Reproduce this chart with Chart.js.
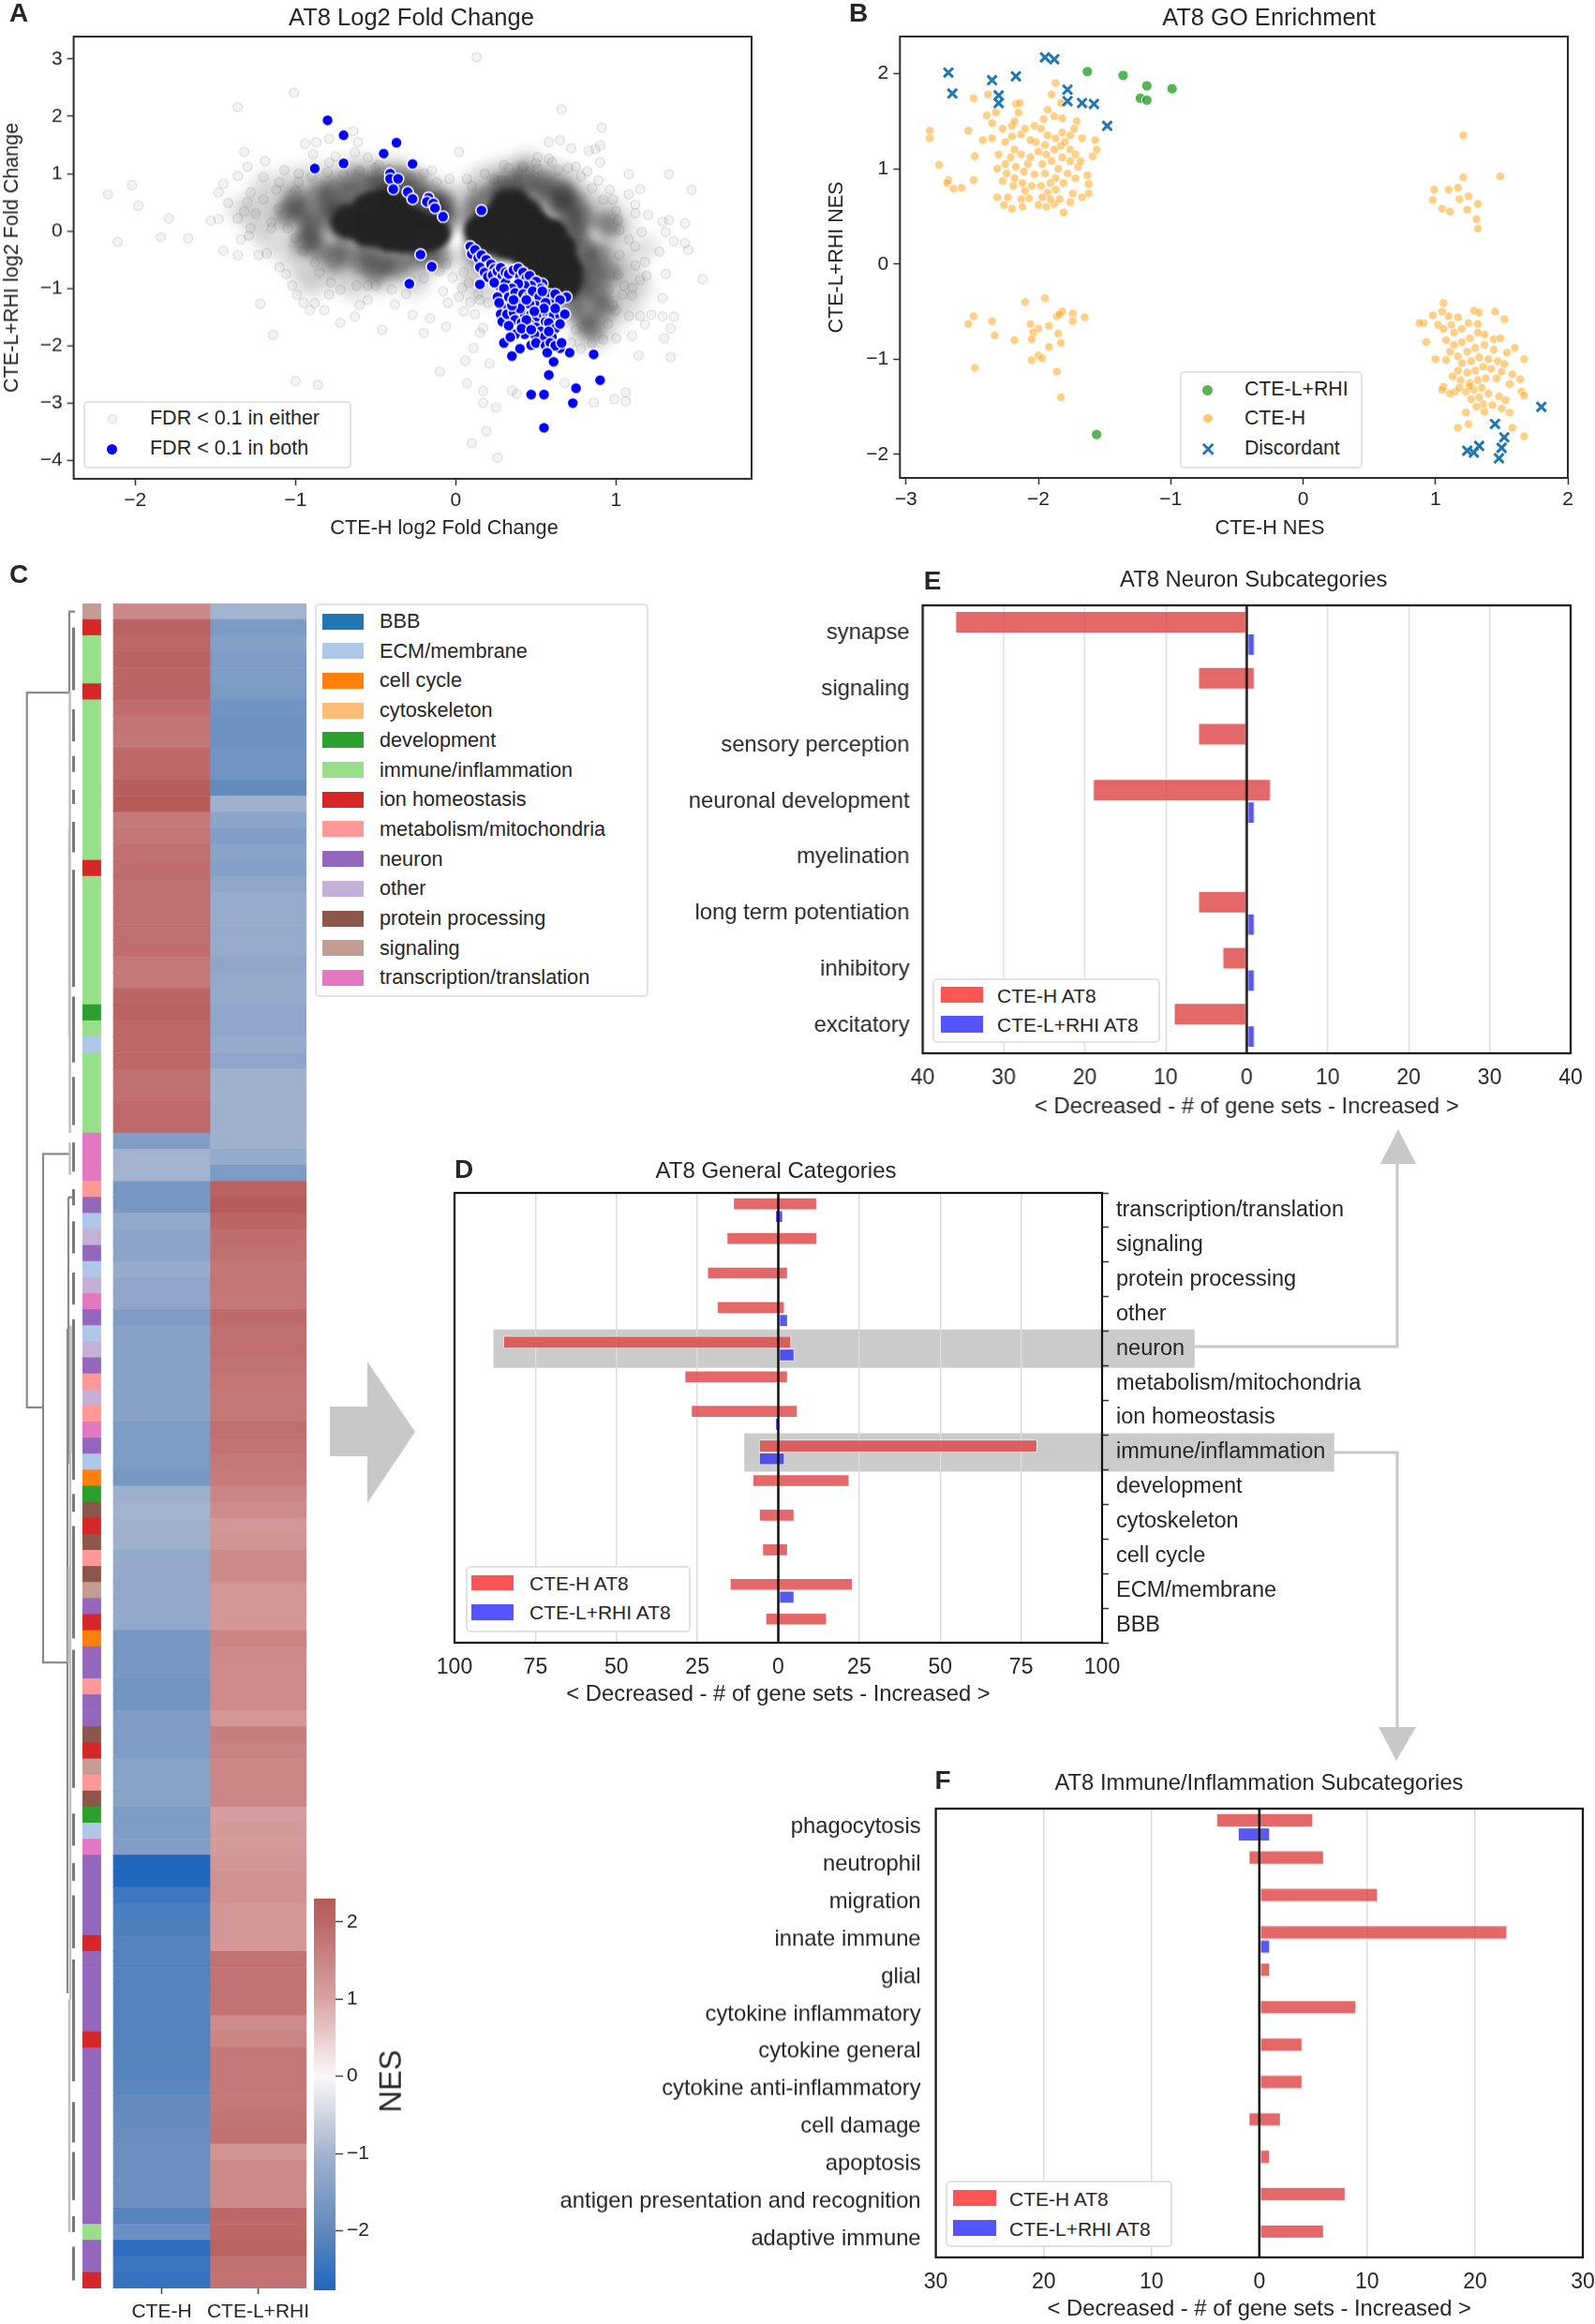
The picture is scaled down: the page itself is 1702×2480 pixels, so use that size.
<!DOCTYPE html>
<html>
<head>
<meta charset="utf-8">
<title>AT8 figure</title>
<script src="https://cdn.jsdelivr.net/npm/chart.js@4"></script>
<style>
  html, body { margin: 0; padding: 0; background: #fff; }
  #page { position: relative; width: 1702px; height: 2480px; overflow: hidden; filter: blur(0.6px);
          font-family: "Liberation Sans", Arial, sans-serif; color: #262626; }
  #page canvas { position: absolute; }
  .txt { position: absolute; white-space: nowrap; transform: translate(-50%, -50%); line-height: 1; }
  .legend { position: absolute; background: #fff; border: 2px solid #e2e2e2; border-radius: 5px; box-sizing: border-box; }
  .legend .key { position: absolute; }
  .legend .lab { position: absolute; white-space: nowrap; line-height: 1; transform: translateY(-50%); }
</style>
</head>
<body>
<div id="page">
  <svg id="notes" width="1702" height="2480" style="position:absolute;left:0;top:0">
    <polygon points="352,1501 392,1501 392,1453 443,1528 392,1604 392,1554 352,1554" fill="#c8c8c8"/>
    <polyline points="1270,1437 1491,1437 1491,1235" fill="none" stroke="#c8c8c8" stroke-width="3"/>
    <polygon points="1473,1242 1492,1205 1511,1242" fill="#c8c8c8"/>
    <polyline points="1420,1550 1491,1550 1491,1850" fill="none" stroke="#c8c8c8" stroke-width="3"/>
    <polygon points="1471,1843 1490,1879 1511,1843" fill="#c8c8c8"/>
  </svg>
</div>

<script>
// ---------- panel A, log2 fold change ----------
const eitherCore = [
  [-.5,.5],[-.43,.56],[-.36,.48],[-.58,.36],[-.5,.35],[-.42,.34],[-.34,.3],[-.27,.24],
  [-.63,.2],[-.56,.2],[-.48,.2],[-.4,.2],[-.32,.18],[-.24,.14],[-.17,.1],
  [-.65,.07],[-.58,.05],[-.5,.05],[-.42,.05],[-.34,.04],[-.26,.02],[-.18,0],[-.11,-.02],
  [-.57,-.07],[-.5,-.08],[-.42,-.1],[-.34,-.1],[-.26,-.1],[-.18,-.1],[-.12,-.09],
  [-.42,-.16],[-.34,-.18],[-.26,-.18],[-.18,-.17],[-.7,.12],[-.68,.25],[-.55,.45],
  [.27,.36],[.34,.4],[.4,.36],[.3,.52],[.38,.54],[.46,.36],[.19,.2],[.26,.22],[.34,.22],[.42,.22],[.5,.18],
  [.13,.06],[.2,.08],[.28,.08],[.36,.08],[.44,.08],[.52,.06],[.57,.02],[.62,-.02],
  [.13,-.05],[.2,-.06],[.28,-.06],[.36,-.06],[.44,-.06],[.52,-.06],[.6,-.08],
  [.19,-.19],[.26,-.2],[.34,-.2],[.42,-.2],[.5,-.2],[.58,-.2],[.63,-.22],[.68,-.28],
  [.31,-.3],[.38,-.32],[.46,-.34],[.54,-.34],[.62,-.34],[.66,-.38],
  [.43,-.46],[.5,-.48],[.58,-.48],[.65,-.5],[.7,-.55],
  [.5,-.6],[.58,-.62],[.66,-.62],[.72,-.7],[.56,-.74],[.63,-.76],[.61,-.88],[.66,-.9],[.71,-.88],[.68,-1.02]
];
const eitherMid = [
  [-1,.55],[-.95,.35],[-.9,.15],[-.9,-.05],[-.85,.65],[-.85,-.3],[-.8,.45],[-.78,.25],[-.75,-.5],[-.75,.75],
  [-.72,.05],[-.7,-.3],[-.66,.62],[-.62,.88],[-.6,.42],[-.6,-.55],[-.55,-.35],[-.52,.72],[-.5,-.7],[-.48,.9],
  [-.45,-.5],[-.42,.75],[-.38,-.62],[-.35,.9],[-.3,.6],[-.28,-.45],[-.25,.8],[-.22,.48],[-.18,-.4],[-.15,.55],
  [-.12,.35],[-.08,.45],[-.1,-.45],[-.05,.2],[-.72,.35],[-.95,-.2],[-1.05,.3],[-.15,.2],
  [.1,.3],[.12,-.35],[.15,.55],[.2,-.5],[.25,.65],[.3,.8],[.38,.72],[.42,.95],[.5,.7],[.55,.85],
  [.6,.5],[.65,.7],[.68,.35],[.72,.1],[.75,.45],[.75,-.1],[.8,-.3],[.8,.2],[.82,-.55],[.85,-.8],
  [.75,-.8],[.78,-1.05],[.88,-1.1],[.72,-1.3],[.8,-1.5],[.9,-.4],[.95,-.75],[.92,-1.35],[.85,-1.7],[.95,.1],
  [.7,-.95],[.68,.6]
];
const eitherHalo = [
  [-1.35,.35],[-1.25,.5],[-1.25,.15],[-1.2,.8],[-1.2,-.1],[-1.15,.3],[-1.1,.6],[-1.1,-.3],[-1.05,.9],[-1.05,.1],
  [-1,-.5],[-.95,.75],[-.95,-.75],[-.9,1],[-.9,-.95],[-.85,-.55],[-.8,.9],[-.8,-.8],[-.7,1.05],[-.7,-.75],
  [-.65,-1],[-.6,1.1],[-.55,-.85],[-.5,1.05],[-.45,-.9],[-.4,1.1],[-.3,-.75],[-.3,1],[-.2,-.65],[-.2,.8],
  [-.1,.7],[-.05,.55],[-.25,-.95],[.05,.6],[.08,-.6],[.12,.85],[.15,-.8],[.2,.95],[.1,-1],[.22,-1.1],
  [.28,1.05],[.38,1.1],[.45,1.2],[.55,1.05],[.65,1],[.72,.85],[.8,.65],[.88,.45],[.9,.2],[.98,.4],
  [1.05,.1],[1,-.15],[1.05,-.5],[1.1,-.8],[1.02,-1.05],[1.08,-1.3],[.98,-1.55],[1,-.6],[.95,-1.2],[.9,-1.85],
  [.78,-1.85],[1.18,-.3],[1.15,-1]
];
const eitherPoints = [
  [.13,3.03],[-1.01,2.41],[-1.36,2.16],[.66,2.12],[.91,1.8],[.9,1.49],[.65,1.58],[.58,1.55],[.87,1.43],[.72,1.44],
  [.83,1.4],[.51,1.29],[.58,1.26],[.9,1.2],[.51,1.09],[.64,1.06],[.39,1],[.75,1.12],[1.08,.99],[1.33,.99],
  [1.47,.72],[.89,.88],[1.15,.73],[1.08,.64],[.98,.55],[1.12,.46],[1.12,.31],[1.01,.19],[1.43,.13],[1.33,.19],
  [1.29,.16],[1.16,-.02],[1.31,-.02],[1.36,-.18],[1.43,-.21],[1.45,-.33],[1.27,-.36],[1.12,-.27],[1.18,-.54],[1.31,-.75],
  [1.54,-.84],[1.19,-.78],[1.01,-.77],[1.1,-.99],[1.04,-1.11],[1.29,-1.17],[1,-1.38],[1.08,-1.48],[1.15,-1.48],[1.22,-1.46],
  [1.29,-1.49],[1.36,-1.49],[1.34,-1.7],[1.18,-1.63],[1.1,-1.83],[1.3,-1.87],[1,-1.87],[.92,-1.89],[1.14,-2.17],[1.34,-2.2],
  [.99,-2.93],[1.06,-2.81],[1.06,-2.97],[.86,-2.99],[.68,-2.65],[.35,-2.78],[.38,-2.84],[.07,-2.65],[.17,-2.79],[.17,-3],
  [.25,-3.08],[.19,-3.49],[.1,-3.7],[.26,-3.95],[-.1,-2.45],[.06,-2.26],[.21,-2.31],[.11,-2.04],[.15,-1.78],[-.06,-1.67],
  [-.16,-1.52],[-.27,-1.46],[-.2,-1.78],[-.46,-1.72],[-.72,-1.6],[-.63,-1.49],[-.6,-1.29],[-.79,-1.11],[-.99,-1.11],[-.88,-1.26],
  [-.82,-1.38],[-.91,-1.38],[-1.14,-1.81],[-1.22,-1.27],[-1,-2.62],[-.86,-2.68],
  [-2.17,.64],[-2.02,.8],[-1.98,.44],[-2.11,-.19],[-1.84,-.11],[-1.79,.22],[-1.67,-.13],[-1.53,.18],[-1.48,.21],[-1.45,-.34],
  [-1.48,.67],[-1.45,.82],[-1.42,.49],[-1.36,.96],[-1.32,1.38],[-1.3,1.12],[-1.19,1.22],[-1.36,.22],[-1.32,.34],[-1.28,.67],
  [-1.2,.94],[-1.36,-.42],[-1.34,-.15],[-1.29,-.08],[-1.23,-.42],[-1.18,-.39],[-1.1,-.63],[-1.06,-.75],[-.94,1.52],[-.87,1.55],
  [-.79,1.61],[-.64,1.74],[-.61,1.55],[-.89,1.34],[-.79,1.19],[-1.07,1.06],[-.98,1],[-.63,1.37],[-.55,1.28],[-.48,1.15],
  [.02,1.38],[-.15,1.06],[-.04,.91],[.07,.91],[.24,.91],[.29,.88],[-.06,-.57],[-.02,-.81],[.04,-.99],[.09,-1.24],
  [.02,-1.15],[.12,-1.45],[.17,-1.69],[-.31,-1.1],[-.55,-1.2],[-.38,-1.28],[-1.15,.05],[-1.02,-.95],[-.95,-1.25],[-1.28,.05],
  [-.75,1.3],[-1.1,.85],[.33,1.1],[.46,1.02],[.82,1.04],[.96,.72],[1.2,.28],[1.02,-.42],[.95,-1.02],[.78,-2.05],
  [-1.3,.5],[-1.25,.3],[-1.2,.55],[-1.15,.15],[-1.12,.72],[-1.1,.4],[-1.05,.05],[-1,.7],[-1,-.12],[-.98,.85],
  [-.95,-.35],[-.9,.95],[-.88,-.55],[-.85,-.72],[-.8,1.02],[-.78,-.9],[-.72,-1.02],[-.7,.98],[-.62,-.95],[-.6,1.05],
  [-.5,1.1],[-.5,-.95],[-.4,-1.02],[-.42,1.08],[-.3,-.92],[-.2,-.82],[-.12,.85],[-.2,1],[-.1,-.7],[.05,-.72],
  [.1,.78],[.08,-.9],[.18,1],[.14,-1.1],[.2,-1.25],[.3,1.15],[.42,1.12],[.5,1.18],[.6,1.2],[.7,1.1],
  [.78,.95],[.85,.75],[.92,.55],[1,.35],[1.02,.02],[1.08,-.15],[1.12,-.6],[1.15,-.85],[1.05,-.95],[1.1,-1.12],
  [.98,-1.3],[.95,-1.62],[.85,-1.95],[.75,-1.72],[.72,-1.95],[.15,-1.2],[.05,-1.4],[-.08,-1.05],[-.05,-1.25],[-.55,-.95]
];
const bothPoints = [
  [-.8,1.93],[-.7,1.67],[-.7,1.18],[-.88,1.09],[-.45,1.35],[-.37,1.54],[-.27,1.17],[-.41,1],[-.41,.91],[-.36,.91],
  [-.39,.73],[-.3,.68],[-.27,.56],[-.17,.58],[-.18,.51],[-.14,.48],[-.13,.4],[-.08,.25],[.16,.36],[-.22,-.41],
  [-.15,-.62],[-.29,-.92],[.86,-2.15],[.9,-2.6],[.75,-2.74],[.73,-3],[.58,-2.51],[.61,-2.28],[.55,-3.43],[.47,-2.85],
  [.55,-2.85],[.71,-2.12],[.65,-2.04],[.57,-1.99],[.47,-1.99],[.4,-2.05],[.35,-2.18],[.31,-1.93],[.69,-1.15],[.54,-.92],
  [.09,-.27],[.1,-.4],[.12,-.33],[.14,-.47],[.16,-.42],[.17,-.58],[.19,-.5],[.2,-.62],[.15,-.63],[.18,-.72],
  [.2,-.8],[.15,-.93],[.22,-.58],[.24,-.66],[.23,-.77],[.26,-.7],[.28,-.64],[.29,-.8],[.31,-.72],[.27,-.95],
  [.24,-.9],[.31,-.9],[.33,-.75],[.36,-.68],[.39,-.65],[.4,-.8],[.42,-.72],[.44,-.82],[.46,-.78],[.5,-.88],
  [.53,-1],[.47,-.95],[.43,-.95],[.39,-.92],[.35,-1],[.3,-1],[.26,-1.15],[.33,-1.15],[.37,-1.08],[.39,-1.25],
  [.42,-1.1],[.45,-1.15],[.48,-1.05],[.52,-1.15],[.5,-1.3],[.46,-1.28],[.58,-1.1],[.6,-1.25],[.62,-1.1],[.65,-1.2],
  [.56,-1.25],[.3,-1.35],[.28,-1.45],[.29,-1.58],[.32,-1.45],[.36,-1.42],[.37,-1.55],[.41,-1.6],[.43,-1.45],[.47,-1.45],
  [.5,-1.5],[.53,-1.42],[.57,-1.45],[.61,-1.47],[.65,-1.47],[.68,-1.45],[.56,-1.58],[.46,-1.62],[.5,-1.68],[.53,-1.75],
  [.58,-1.6],[.62,-1.7],[.65,-1.62],[.6,-1.85],[.55,-1.85],[.49,-1.8],[.43,-1.8],[.37,-1.8],[.3,-1.95],[.34,-1.85],
  [.5,-1.95],[.56,-2],[.59,-1.95],[.62,-2],[.57,-2.12],[.66,-1.95],[.4,-1.35],[.44,-1.55],[.55,-1.35],[.35,-1.3],
  [.41,-1.7],[.47,-1.72],[.58,-1.75],[.33,-1.65],[.62,-1.35],[.27,-1.25],[.36,-1.2],[.49,-1.4],[.44,-1.2],[.54,-1.05]
];

// ---------- panel B, GO enrichment ----------
const greenSets = [[-1.63,2.02],[-1.36,1.98],[-1.18,1.87],[-.99,1.84],[-1.23,1.74],[-1.18,1.72],[-1.56,-1.79]];
const discordantSets = [
  [-2.68,2.01],[-2.65,1.79],[-2.35,1.93],[-2.17,1.97],[-2.3,1.77],[-2.3,1.69],[-1.95,2.17],[-1.88,2.15],[-1.78,1.83],[-1.78,1.71],
  [-1.67,1.69],[-1.58,1.68],[-1.48,1.45],[1.8,-1.5],[1.45,-1.68],[1.52,-1.82],[1.33,-1.91],[1.5,-1.93],[1.48,-2.04],[1.24,-1.96],[1.29,-1.98]
];
const orangeSets = [
  // upper left
  [-2.82,1.4],[-2.82,1.32],[-2.75,1.04],[-2.68,.88],[-2.69,.85],[-2.64,.79],[-2.58,.8],[-2.49,.88],[-2.48,1.13],[-2.53,1.4],
  [-2.49,1.74],[-2.38,1.78],[-2.42,1.3],[-2.39,1.56],[-2.35,1.32],[-2.32,1.59],[-2.35,1.48],[-1.87,1.9],[-1.9,1.78],[-2.17,1.68],
  [-2.14,1.69],[-2.15,1.59],[-1.83,1.69],[-1.93,1.62],[-1.88,1.55],[-1.96,1.52],[-1.82,1.53],[-1.71,1.5],[-1.67,1.32],[-1.57,1.3],
  [-1.56,1.2],[-1.59,1.13],[-1.63,.93],[-1.62,.84],[-1.62,.74],[-1.67,.7],[-1.81,.54],[-1.94,.6],[-1.88,.63],[-2.2,.58],
  [-2.26,.62],[-2.23,.7],[-2.31,.7],[-2.13,.68],[-2.07,.69],[-2.1,.77],[-2.19,.82],[-2.27,.87],[-2.31,1],[-2.25,1.05],
  [-2.24,.95],[-2.18,.9],[-2.17,1.02],[-2.12,.85],[-2.05,.82],[-2.03,.94],[-2.11,.97],[-2.08,1.05],[-2.21,1.12],[-2.18,1.2],
  [-2.13,1.15],[-2.06,1.12],[-2.0,1.18],[-1.97,1.05],[-1.95,.95],[-1.98,.82],[-1.93,.75],[-1.87,.78],[-1.84,.68],[-1.91,.68],
  [-1.76,.65],[-1.74,.74],[-1.81,.85],[-1.87,.9],[-1.91,.85],[-1.85,1],[-1.78,.95],[-1.72,.9],[-1.7,1.02],[-1.76,1.08],
  [-1.82,1.12],[-1.9,1.08],[-1.94,1.15],[-2.02,1.28],[-1.95,1.25],[-1.88,1.2],[-1.83,1.24],[-1.76,1.2],[-1.72,1.15],[-1.68,1.08],
  [-2.25,1.28],[-2.2,1.34],[-2.27,1.42],[-2.2,1.45],[-2.13,1.36],[-2.06,1.3],[-2.1,1.42],[-2.03,1.45],[-1.98,1.42],[-1.93,1.35],
  [-1.87,1.32],[-1.82,1.38],[-1.76,1.35],[-1.73,1.42],[-1.8,1.28],[-2.3,1.15],[-2.18,1.5],[-1.97,.7],[-2.0,.62],[-2.12,.6],
  // lower left
  [-2.53,-.63],[-2.49,-.55],[-2.35,-.6],[-2.33,-.75],[-2.18,-.8],[-2.1,-.4],[-2.06,-.63],[-1.95,-.36],[-2.0,-.68],[-2.04,-.72],
  [-2.05,-.79],[-1.92,-.65],[-1.86,-.55],[-1.82,-.5],[-1.84,-.53],[-1.74,-.52],[-1.74,-.6],[-1.65,-.56],[-1.85,-.73],[-1.83,-.83],
  [-1.92,-.87],[-2.0,-.96],[-2.05,-1.01],[-1.97,-.99],[-2.48,-1.09],[-1.86,-1.13],[-1.83,-1.4],
  // upper right
  [1.21,1.35],[1.49,.92],[1.21,.91],[1.17,.8],[1.1,.78],[.99,.78],[.98,.67],[1.25,.71],[1.18,.68],[1.32,.63],
  [1.24,.57],[1.11,.55],[1.05,.58],[1.31,.47],[1.32,.37],
  // lower right
  [.91,-.62],[.88,-.62],[.93,-.82],[.98,-.54],[1.06,-.41],[1.05,-.5],[1.1,-.55],[1.17,-.56],[1.29,-.49],[1.33,-.51],
  [1.45,-.5],[1.52,-.58],[1.32,-.63],[1.37,-.74],[1.44,-.79],[1.49,-.78],[1.6,-.88],[1.54,-.93],[1.67,-1],[1.4,-1],
  [1,-1],[1.08,-1.01],[1.58,-1.16],[1.5,-1.13],[1.64,-1.21],[1.56,-1.26],[1.65,-1.34],[1.67,-1.38],[1.48,-1.39],[1.53,-1.43],
  [1.56,-1.56],[1.5,-1.52],[1.58,-1.72],[1.67,-1.81],[1.37,-1.55],[1.23,-1.56],[1.25,-1.68],[1.17,-1.72],[1.06,-1.29],[1.05,-1.32],
  [1.15,-1.34],[1.11,-1.36],[1.02,-.64],[1.06,-.68],[1.12,-.64],[1.14,-.72],[1.2,-.68],[1.25,-.62],[1.08,-.8],[1.14,-.85],
  [1.2,-.82],[1.26,-.78],[1.32,-.72],[1.37,-.85],[1.3,-.88],[1.24,-.92],[1.17,-.97],[1.11,-.92],[1.2,-1.04],[1.27,-1.02],
  [1.33,-.98],[1.44,-.9],[1.47,-1.02],[1.42,-1.1],[1.36,-1.08],[1.3,-1.12],[1.24,-1.14],[1.17,-1.12],[1.13,-1.18],[1.19,-1.22],
  [1.26,-1.25],[1.32,-1.22],[1.38,-1.2],[1.35,-1.3],[1.29,-1.32],[1.23,-1.34],[1.18,-1.3],[1.27,-1.42],[1.33,-1.4],[1.4,-1.36],
  [1.43,-1.48],[1.36,-1.47],[1.31,-1.5],[1.26,-1.28],[1.46,-1.2],[1.52,-1.05]
];

// ---------- panel C, clustered heatmap ----------
const heatColumns = ['CTE-H', 'CTE-L+RHI'];
const strengthCategories = ['BBB','ECM/membrane','cell cycle','cytoskeleton','development','immune/inflammation','ion homeostasis',
  'metabolism/mitochondria','neuron','other','protein processing','signaling','transcription/translation'];
const categoryColors = ['#1f77b4','#aec7e8','#ff7f0e','#ffbb78','#2ca02c','#98df8a','#d62728','#ff9896','#9467bd','#c5b0d5','#8c564b','#c49c94','#e377c2'];
// index into strengthCategories, one per heatmap row, top to bottom
const rowCategory = [
  11,6,5,5,5,6,5,5,5,5,
  5,5,5,5,5,5,6,5,5,5,
  5,5,5,5,5,4,5,1,5,5,
  5,5,5,12,12,12,7,8,1,9,
  8,1,9,12,8,1,9,8,7,9,
  7,12,8,1,2,4,10,6,10,7,
  10,11,8,6,2,8,8,7,8,8,
  10,6,11,7,10,4,1,12,8,8,
  8,8,8,6,8,8,8,8,8,6,
  8,8,8,8,8,8,8,8,8,8,
  8,5,8,8,6
];
const nesCteH = [
  1.45,2.15,2.0,2.1,2.05,2.05,1.9,1.8,1.75,2.0,
  2.0,2.2,2.35,1.7,1.75,1.85,1.9,1.88,1.88,1.88,
  1.88,1.88,1.72,1.72,2.05,2.1,2.0,2.0,2.0,1.85,
  1.85,1.95,1.95,-1.5,-1.0,-1.0,-1.65,-1.65,-1.25,-1.35,
  -1.35,-1.2,-1.3,-1.3,-1.55,-1.42,-1.42,-1.42,-1.42,-1.42,
  -1.42,-1.6,-1.6,-1.6,-1.65,-1.1,-1.0,-1.05,-1.05,-1.25,
  -1.25,-1.25,-1.25,-1.25,-1.65,-1.65,-1.65,-1.72,-1.72,-1.55,
  -1.55,-1.55,-1.4,-1.4,-1.4,-1.6,-1.55,-1.5,-2.75,-2.75,
  -2.4,-2.25,-2.2,-2.15,-2.15,-2.15,-2.15,-2.15,-2.15,-2.15,
  -2.1,-2.1,-2.05,-1.95,-1.92,-1.9,-1.85,-1.85,-1.85,-1.85,
  -2.1,-1.85,-2.6,-2.45,-2.5
];
const nesCteLRhi = [
  -1.0,-1.6,-1.45,-1.55,-1.55,-1.6,-1.75,-1.8,-1.8,-1.75,
  -1.75,-1.95,-1.05,-1.35,-1.5,-1.4,-1.45,-1.3,-1.2,-1.2,
  -1.2,-1.2,-1.3,-1.22,-1.22,-1.3,-1.3,-1.2,-1.3,-1.05,
  -1.05,-1.05,-1.05,-1.05,-1.2,-1.6,2.15,2.25,2.05,1.9,
  1.85,1.75,1.75,1.72,1.95,1.85,1.88,1.82,1.75,1.7,
  1.72,1.88,1.82,1.72,1.68,1.5,1.4,1.2,1.25,1.42,
  1.42,1.2,1.2,1.2,1.5,1.42,1.4,1.4,1.4,1.2,
  1.62,1.55,1.48,1.48,1.48,1.1,1.15,1.15,1.22,1.3,
  1.3,1.2,1.2,1.2,1.82,1.82,1.82,1.82,1.4,1.5,
  1.72,1.72,1.72,1.72,1.8,1.85,1.25,1.42,1.42,1.42,
  2.0,2.0,2.1,1.85,1.82
];
// NES -> colour
const nesStops = [[-2.77,'#1f66c0'],[-2,'#6089bd'],[-1,'#a3b3cf'],[0,'#fbf8f8'],[1,'#d8a3a3'],[2,'#bd6767'],[2.3,'#b65a5a']];

// dendrogram: [height, row] pairs, null breaks the line
const dendroMain = [
  [1.1,5.55],[5.73,5.55],[5.73,50.1],[4,50.1],null,
  [1.1,34.3],[4,34.3],[4,66],[1.4,66],null,
  [1.4,45.2],[1.4,86.6],null,
  [1.3,37],[1.3,53.6],null,
  [1.3,37],[.9,37],null,
  [.6,.5],[1.2,.5],[1.2,5.55]
];
const dendroSpines = [[1.15,5.5,33],[1.15,33.6,35.6],[1.05,45,53],[1.1,53,87],[1.2,87,101.5],[1.25,60,66],[1.2,14,27]];
const dendroLeaves = [
  [1.5,5.4],[6.6,8.6],[9.5,10.5],[11.6,12.5],[13.6,15.5],[16.6,23.9],[24.5,28.6],[29.5,32.5],[33.6,35.4],
  [36.5,37.5],[38.5,40.5],[41.7,43.7],[44.6,54.6],[55.5,56.6],[57.5,64.5],[65.2,70.5],
  [70.4,73.8],[75.4,77.4],[78.5,79.6],[80.5,83.8],[84.5,92.1],[93.4,95.9],[96.5,99.5],[100.5,101.5],[102.4,104.5]
];

// ---------- panel D, general categories ----------
const generalCategories = ['transcription/translation','signaling','protein processing','other','neuron','metabolism/mitochondria',
  'ion homeostasis','immune/inflammation','development','cytoskeleton','cell cycle','ECM/membrane','BBB'];
const generalHDown = [-14,-16,-22,-19,-85,-29,-27,-6,-8,-6,-5,-15,-4];
const generalHUp   = [12,12,3,2,4,3,6,80,22,5,3,23,15];
const generalLDown = [-1,0,0,0,0,0,-1,-6,0,0,0,0,0];
const generalLUp   = [1.5,0,.5,3,5,.5,.5,2,0,0,0,5,0];

// ---------- panel E, neuron subcategories ----------
const neuronCategories = ['synapse','signaling','sensory perception','neuronal development','myelination','long term potentiation','inhibitory','excitatory'];
const neuronHDown = [-36,-6,-6,-19,0,-6,-3,-9];
const neuronHUp   = [0,1,0,3,0,0,0,0];
const neuronLDown = [0,0,0,0,0,0,0,0];
const neuronLUp   = [1,0,0,1,0,1,1,1];

// ---------- panel F, immune subcategories ----------
const immuneCategories = ['phagocytosis','neutrophil','migration','innate immune','glial','cytokine inflammatory','cytokine general',
  'cytokine anti-inflammatory','cell damage','apoptosis','antigen presentation and recognition','adaptive immune'];
const immuneHDown = [-4,-1,0,0,0,0,0,0,-1,0,0,0];
const immuneHUp   = [5,6,11,23,1,9,4,4,2,1,8,6];
const immuneLDown = [-2,0,0,0,0,0,0,0,0,0,0,0];
const immuneLUp   = [1,0,0,1,0,0,0,0,0,0,0,0];

const FONT = '"Liberation Sans", Arial, sans-serif';
const INK = '#262626';
const page = document.getElementById('page');

function toPoints(list) {
  return list.map(p => p ? { x: p[0], y: p[1] } : { x: NaN, y: NaN });
}

function addCanvas(left, top, width, height) {
  const c = document.createElement('canvas');
  c.width = width;
  c.height = height;
  c.style.left = left + 'px';
  c.style.top = top + 'px';
  c.style.width = width + 'px';
  c.style.height = height + 'px';
  page.appendChild(c);
  return c;
}

function addText(str, cx, cy, size, extra) {
  const d = document.createElement('div');
  d.className = 'txt';
  d.textContent = str;
  d.style.left = cx + 'px';
  d.style.top = cy + 'px';
  d.style.fontSize = size + 'px';
  if (extra) Object.assign(d.style, extra);
  page.appendChild(d);
}

// box = [left, top, right, bottom], rows = [{label, y, key:{css}}] in page pixels
function addLegend(box, rows, textX, size) {
  const d = document.createElement('div');
  d.className = 'legend';
  d.style.left = box[0] + 'px';
  d.style.top = box[1] + 'px';
  d.style.width = (box[2] - box[0]) + 'px';
  d.style.height = (box[3] - box[1]) + 'px';
  rows.forEach(r => {
    const k = document.createElement('div');
    k.className = 'key';
    Object.assign(k.style, r.key);
    k.style.left = (parseFloat(r.key.left) - box[0] - 2) + 'px';
    k.style.top = (parseFloat(r.key.top) - box[1] - 2) + 'px';
    if (r.glyph) k.textContent = r.glyph;
    d.appendChild(k);
    const l = document.createElement('div');
    l.className = 'lab';
    l.textContent = r.label;
    l.style.left = (textX - box[0] - 2) + 'px';
    l.style.top = (r.y - box[1] - 2) + 'px';
    l.style.fontSize = size + 'px';
    d.appendChild(l);
  });
  page.appendChild(d);
}

function dot(cx, cy, r, fill, border) {
  return { left: (cx - r) + 'px', top: (cy - r) + 'px', width: 2 * r + 'px', height: 2 * r + 'px',
           borderRadius: '50%', background: fill, boxSizing: 'border-box', border: border || 'none' };
}
function swatch(x0, x1, y0, y1, fill) {
  return { left: x0 + 'px', top: y0 + 'px', width: (x1 - x0) + 'px', height: (y1 - y0) + 'px', background: fill };
}

// the tick labels must not push the plot box around, the margins already leave room
function noScalePadding(s) {
  s.paddingLeft = s.paddingRight = s.paddingTop = s.paddingBottom = 0;
}

const framePlugin = {
  id: 'frame',
  afterDatasetsDraw(chart, args, opts) {
    const a = chart.chartArea, ctx = chart.ctx;
    ctx.save();
    ctx.strokeStyle = opts.color || '#111';
    ctx.lineWidth = opts.width || 2;
    ctx.strokeRect(a.left, a.top, a.right - a.left, a.bottom - a.top);
    ctx.restore();
  }
};
const zeroLinePlugin = {
  id: 'zeroLine',
  afterDatasetsDraw(chart) {
    const x = chart.scales.x.getPixelForValue(0), a = chart.chartArea, ctx = chart.ctx;
    ctx.save();
    ctx.strokeStyle = '#111';
    ctx.lineWidth = 2.5;
    ctx.beginPath();
    ctx.moveTo(x, a.top);
    ctx.lineTo(x, a.bottom);
    ctx.stroke();
    ctx.restore();
  }
};
// gray highlight behind a row, from / to in x axis units, may run past the axes
const bandPlugin = {
  id: 'bands',
  beforeDraw(chart, args, opts) {
    const ctx = chart.ctx, xs = chart.scales.x, ys = chart.scales.y;
    (opts.rows || []).forEach(b => {
      const y = ys.getPixelForValue(b.row);
      const x0 = xs.getPixelForValue(b.from), x1 = xs.getPixelForValue(b.to);
      ctx.fillStyle = '#cbcbcb';
      ctx.fillRect(x0, y - 20.5, x1 - x0, 41);
    });
  }
};
// soft layers of the dense point cloud
const softPlugin = {
  id: 'soft',
  beforeDatasetDraw(chart, args) {
    const b = chart.data.datasets[args.index].soft;
    if (b) { chart.ctx.save(); chart.ctx.filter = 'blur(' + b + 'px)'; }
  },
  afterDatasetDraw(chart, args) {
    if (chart.data.datasets[args.index].soft) chart.ctx.restore();
  }
};

function minusTick(v) {
  return String(v).replace('-', '\u2212');
}

function scatterPanel(plot, leftMargin, xRange, yRange, yTitle, datasets) {
  const top = 15, right = 30, bottom = 60;
  const canvas = addCanvas(plot[0] - leftMargin, plot[1] - top, plot[2] - plot[0] + leftMargin + right, plot[3] - plot[1] + top + bottom);
  return new Chart(canvas, {
    type: 'scatter',
    data: { datasets },
    options: {
      responsive: false,
      animation: false,
      layout: { padding: { top, right, bottom: 0, left: 0 } },
      plugins: { legend: { display: false }, tooltip: { enabled: false }, frame: { color: '#2b2b2b', width: 2 } },
      scales: {
        x: {
          min: xRange[0], max: xRange[1],
          afterFit: s => { s.height = bottom; noScalePadding(s); },
          border: { display: false },
          grid: { drawOnChartArea: false, tickLength: 7, tickColor: '#333', tickWidth: 1.5 },
          ticks: { stepSize: 1, includeBounds: false, padding: 4, color: INK, font: { family: FONT, size: 21 }, callback: minusTick, maxRotation: 0 }
        },
        y: {
          min: yRange[0], max: yRange[1],
          afterFit: s => { s.width = leftMargin; noScalePadding(s); },
          border: { display: false },
          grid: { drawOnChartArea: false, tickLength: 7, tickColor: '#333', tickWidth: 1.5 },
          title: { display: true, text: yTitle, color: INK, font: { family: FONT, size: 21.5 }, padding: 0 },
          ticks: { stepSize: 1, includeBounds: false, padding: 5, color: INK, font: { family: FONT, size: 21 }, callback: minusTick }
        }
      }
    },
    plugins: [softPlugin, framePlugin]
  });
}

// ---------- A ----------
scatterPanel([78.6, 39, 802, 510.5], 78.6, [-2.384, 1.845], [-4.32, 3.39], 'CTE-L+RHI log2 Fold Change', [
  { label: 'FDR < 0.1 in both', data: toPoints(bothPoints), order: 0, pointRadius: 6, pointBackgroundColor: '#0000ff', pointBorderColor: 'rgba(255,255,255,.95)', pointBorderWidth: 1.6 },
  { label: 'FDR < 0.1 in either', data: toPoints(eitherPoints), order: 1, pointRadius: 5, pointBackgroundColor: 'rgba(90,90,90,.07)', pointBorderColor: 'rgba(90,90,90,.16)', pointBorderWidth: 1.2 },
  { label: 'core', data: toPoints(eitherCore), order: 2, soft: 3.5, pointRadius: 13, pointBackgroundColor: '#242424', pointBorderWidth: 0 },
  { label: 'mid', data: toPoints(eitherMid), order: 3, soft: 6, pointRadius: 14, pointBackgroundColor: 'rgba(30,30,30,.48)', pointBorderWidth: 0 },
  { label: 'halo', data: toPoints(eitherHalo), order: 4, soft: 8, pointRadius: 13, pointBackgroundColor: 'rgba(40,40,40,.17)', pointBorderWidth: 0 }
]);
addText('AT8 Log2 Fold Change', 439, 18.5, 25.5);
addText('CTE-H log2 Fold Change', 474, 563, 21.7);
addText('A', 20, 14, 28, { fontWeight: 'bold' });
addLegend([89.4, 428, 375, 499.5], [
  { label: 'FDR < 0.1 in either', y: 446.5, key: dot(120, 446.5, 5, 'rgba(90,90,90,.07)', '1px solid rgba(90,90,90,.16)') },
  { label: 'FDR < 0.1 in both', y: 479, key: dot(120, 479, 5.5, '#0000ff') }
], 160, 21.5);

// ---------- B ----------
scatterPanel([960.3, 39, 1673, 510], 80.3, [-3.046, 2], [-2.246, 2.388], 'CTE-L+RHI NES', [
  { label: 'Discordant', data: toPoints(discordantSets), pointStyle: 'crossRot', pointRadius: 7, pointBorderColor: '#1f77b4', pointBorderWidth: 3 },
  { label: 'CTE-L+RHI', data: toPoints(greenSets), pointRadius: 5.5, pointBackgroundColor: 'rgba(44,160,44,.8)', pointBorderColor: 'rgba(255,255,255,.8)', pointBorderWidth: 1 },
  { label: 'CTE-H', data: toPoints(orangeSets), pointRadius: 4.6, pointBackgroundColor: 'rgba(255,170,40,.56)', pointBorderColor: 'rgba(255,255,255,.7)', pointBorderWidth: 1 }
]);
addText('AT8 GO Enrichment', 1354, 18.5, 25.5);
addText('CTE-H NES', 1355, 563, 21.7);
addText('B', 916, 14, 28, { fontWeight: 'bold' });
addLegend([1258.7, 396, 1454, 499.5], [
  { label: 'CTE-L+RHI', y: 416, key: dot(1289, 416, 5.5, 'rgba(44,160,44,.8)') },
  { label: 'CTE-H', y: 446.5, key: dot(1289, 446.5, 4.6, 'rgba(255,170,40,.65)') },
  { label: 'Discordant', y: 479, key: { left: '1281px', top: '466px', width: '16px', height: '26px', color: '#1f77b4', font: 'bold 25px ' + FONT, lineHeight: '26px', textAlign: 'center' }, glyph: '\u00d7' }
], 1328, 21.3);

// ---------- C ----------
function nesColor(v) {
  for (let i = 1; i < nesStops.length; i++) {
    if (v <= nesStops[i][0]) {
      const a = nesStops[i - 1], b = nesStops[i];
      const t = Math.max(0, (v - a[0]) / (b[0] - a[0]));
      const ca = Chart.helpers.color(a[1]).rgb, cb = Chart.helpers.color(b[1]).rgb;
      return 'rgb(' + Math.round(ca.r + (cb.r - ca.r) * t) + ',' + Math.round(ca.g + (cb.g - ca.g) * t) + ',' + Math.round(ca.b + (cb.b - ca.b) * t) + ')';
    }
  }
  return nesStops[nesStops.length - 1][1];
}

const heatRows = rowCategory.map((c, i) => String(i));
const stripLeft = -0.317, stripRight = -0.13;
new Chart(addCanvas(88, 644, 239 + 20, 1798 + 40), {
  type: 'bar',
  data: {
    labels: heatRows,
    datasets: [
      { label: 'category', data: rowCategory.map(() => [stripLeft, stripRight]), backgroundColor: rowCategory.map(c => categoryColors[c]) },
      { label: heatColumns[0], data: nesCteH.map(() => [0, 1]), backgroundColor: nesCteH.map(nesColor) },
      { label: heatColumns[1], data: nesCteLRhi.map(() => [1, 2]), backgroundColor: nesCteLRhi.map(nesColor) }
    ]
  },
  options: {
    indexAxis: 'y',
    responsive: false,
    animation: false,
    layout: { padding: { right: 20, top: 0, left: 0, bottom: 0 } },
    plugins: { legend: { display: false }, tooltip: { enabled: false } },
    datasets: { bar: { grouped: false, barPercentage: 1, categoryPercentage: 1, borderWidth: 0 } },
    scales: {
      x: {
        type: 'linear', min: -0.32, max: 2,
        afterFit: s => { s.height = 40; noScalePadding(s); },
        afterBuildTicks: s => { s.ticks = [{ value: 0.5 }, { value: 1.5 }]; },
        border: { display: false },
        grid: { drawOnChartArea: false, tickLength: 6, tickColor: '#444', tickWidth: 1.5 },
        ticks: { autoSkip: false, maxRotation: 0, padding: 7, color: INK, font: { family: FONT, size: 21 }, callback: v => heatColumns[v === 0.5 ? 0 : 1] }
      },
      y: { type: 'category', display: false }
    }
  }
});

// dendrogram, same rows as the heatmap
const dendroLeafSegs = [], dendroSpineSegs = [];
dendroLeaves.forEach(b => { dendroLeafSegs.push([.75, b[0]], [.75, b[1]], null); });
dendroSpines.forEach(b => { dendroSpineSegs.push([b[0], b[1]], [b[0], b[2]], null); });
new Chart(addCanvas(20, 644, 66, 1798), {
  type: 'scatter',
  data: {
    datasets: [
      { data: toPoints(dendroLeafSegs), showLine: true, pointRadius: 0, borderColor: '#7a7a7a', borderWidth: 3 },
      { data: toPoints(dendroSpineSegs), showLine: true, pointRadius: 0, borderColor: '#c0c0c0', borderWidth: 2.5 },
      { data: toPoints(dendroMain), showLine: true, pointRadius: 0, borderColor: '#8a8a8a', borderWidth: 2.2 }
    ]
  },
  options: {
    responsive: false,
    animation: false,
    plugins: { legend: { display: false }, tooltip: { enabled: false } },
    scales: {
      x: { display: false, min: 0, max: 6.6, reverse: true },
      y: { display: false, min: 0, max: 105, reverse: true }
    }
  }
});

// colour bar
new Chart(addCanvas(335, 2016, 70, 438), {
  type: 'bar',
  data: {
    labels: ['NES'],
    datasets: [{
      data: [[-2.77, 2.3]],
      borderWidth: 0,
      barPercentage: 1,
      categoryPercentage: 1,
      backgroundColor: ctx => {
        const c = ctx.chart, ys = c.scales.y;
        if (!c.chartArea) return '#ccc';
        const g = c.ctx.createLinearGradient(0, ys.getPixelForValue(-2.77), 0, ys.getPixelForValue(2.3));
        nesStops.forEach(s => g.addColorStop((s[0] + 2.77) / 5.07, s[1]));
        return g;
      }
    }]
  },
  options: {
    responsive: false,
    animation: false,
    layout: { padding: { top: 10, bottom: 10 } },
    plugins: { legend: { display: false }, tooltip: { enabled: false } },
    scales: {
      x: { display: false },
      y: {
        position: 'right', min: -2.77, max: 2.3,
        afterFit: s => { s.width = 47; noScalePadding(s); },
        border: { display: false },
        grid: { drawOnChartArea: false, tickLength: 8, tickColor: '#444', tickWidth: 1.5 },
        ticks: { stepSize: 1, includeBounds: false, padding: 4, color: INK, font: { family: FONT, size: 21 }, callback: v => minusTick(Math.round(v)) }
      }
    }
  }
});
addText('NES', 417, 2221, 32.5, { transform: 'translate(-50%,-50%) rotate(-90deg)' });
addText('C', 20, 613, 28, { fontWeight: 'bold' });

const heatLegendRows = strengthCategories.map((name, i) => {
  const y = 663 + i * 31.7;
  return { label: name, y, key: swatch(344, 388, y - 8.5, y + 8.5, categoryColors[i]) };
});
addLegend([335.7, 644, 692, 1064], heatLegendRows, 405, 21.7);

// ---------- D, E, F ----------
function makePairs(low, high) {
  return low.map((v, i) => (v === 0 && high[i] === 0) ? null : [v, high[i]]);
}

function barPanel(cfg) {
  const p = cfg.plot, m = cfg.margin;
  const canvas = addCanvas(p[0] - m.left, p[1] - 15, p[2] - p[0] + m.left + m.right, p[3] - p[1] + 15 + m.bottom);
  return new Chart(canvas, {
    type: 'bar',
    data: {
      labels: cfg.categories,
      datasets: [
        { label: 'CTE-H AT8', data: makePairs(cfg.hDown, cfg.hUp), backgroundColor: 'rgba(222,66,66,.8)', borderColor: 'rgba(255,255,255,.75)', borderWidth: 1, borderSkipped: false },
        { label: 'CTE-L+RHI AT8', data: makePairs(cfg.lDown, cfg.lUp), backgroundColor: 'rgba(60,60,240,.85)', borderColor: 'rgba(255,255,255,.75)', borderWidth: 1, borderSkipped: false }
      ]
    },
    options: {
      indexAxis: 'y',
      responsive: false,
      animation: false,
      layout: { padding: { top: 15, right: cfg.yRight ? 0 : m.right, left: cfg.yRight ? m.left : 0, bottom: 0 } },
      plugins: {
        legend: { display: false }, tooltip: { enabled: false },
        frame: { color: '#111', width: 2.2 },
        bands: { rows: cfg.bands || [] }
      },
      datasets: { bar: { categoryPercentage: cfg.catPct, barPercentage: 1 } },
      scales: {
        x: {
          min: -cfg.limit, max: cfg.limit,
          afterFit: s => { s.height = m.bottom; noScalePadding(s); },
          border: { display: false },
          grid: { color: '#dcdcdc', lineWidth: 1.5, drawTicks: false },
          title: { display: true, text: '< Decreased - # of gene sets - Increased >', color: INK, font: { family: FONT, size: 23.8 }, padding: 0 },
          ticks: { stepSize: cfg.step, includeBounds: false, padding: 13, color: INK, font: { family: FONT, size: 23 }, callback: v => String(Math.abs(v)), maxRotation: 0, autoSkip: false }
        },
        y: {
          position: cfg.yRight ? 'right' : 'left',
          afterFit: s => { s.width = cfg.yRight ? m.right : m.left; noScalePadding(s); },
          border: { display: false },
          grid: { drawOnChartArea: false, drawTicks: !!cfg.yRight, tickLength: 7, tickColor: '#333', tickWidth: 1.5 },
          ticks: { padding: cfg.tickPad, color: INK, font: { family: FONT, size: cfg.labelSize }, autoSkip: false }
        }
      }
    },
    plugins: [bandPlugin, zeroLinePlugin, framePlugin]
  });
}

function barLegend(box, sw, textX) {
  addLegend(box, [
    { label: 'CTE-H AT8', y: (sw[0] + sw[1]) / 2, key: swatch(sw[4], sw[5], sw[0], sw[1], '#ff5555') },
    { label: 'CTE-L+RHI AT8', y: (sw[2] + sw[3]) / 2, key: swatch(sw[4], sw[5], sw[2], sw[3], '#5555ff') }
  ], textX, 21);
}

barPanel({
  plot: [485, 1272.6, 1176, 1752.6], margin: { left: 30, right: 320, bottom: 70 },
  categories: generalCategories, hDown: generalHDown, hUp: generalHUp, lDown: generalLDown, lUp: generalLUp,
  limit: 100, step: 25, catPct: 0.74, yRight: true, tickPad: 8, labelSize: 23.5,
  bands: [{ row: 4, from: -88, to: 128.6 }, { row: 7, from: -10.5, to: 171.7 }]
});
addText('AT8 General Categories', 828, 1248.5, 24);
addText('D', 495, 1248, 28, { fontWeight: 'bold' });
barLegend([496.5, 1670.8, 737, 1742], [1680.7, 1697, 1712, 1729, 503, 548], 565);

barPanel({
  plot: [984.3, 645.5, 1675.7, 1124.3], margin: { left: 284.3, right: 26, bottom: 72 },
  categories: neuronCategories, hDown: neuronHDown, hUp: neuronHUp, lDown: neuronLDown, lUp: neuronLUp,
  limit: 40, step: 10, catPct: 0.8, tickPad: 14, labelSize: 23.8
});
addText('AT8 Neuron Subcategories', 1337.7, 618, 23.8);
addText('E', 995, 620, 28, { fontWeight: 'bold' });
barLegend([995, 1043.7, 1238, 1113], [1052.7, 1070.5, 1084, 1102, 1003.5, 1049], 1064);

barPanel({
  plot: [998.6, 1930, 1689, 2408.8], margin: { left: 418.6, right: 13, bottom: 70 },
  categories: immuneCategories, hDown: immuneHDown, hUp: immuneHUp, lDown: immuneLDown, lUp: immuneLUp,
  limit: 30, step: 10, catPct: 0.76, tickPad: 16, labelSize: 23.8
});
addText('AT8 Immune/Inflammation Subcategories', 1343.5, 1901.5, 23.8);
addText('F', 1006, 1899.5, 28, { fontWeight: 'bold' });
barLegend([1009, 2327, 1251, 2398], [2337, 2354, 2369, 2386, 1017, 1063], 1077);
</script>
</body>
</html>
